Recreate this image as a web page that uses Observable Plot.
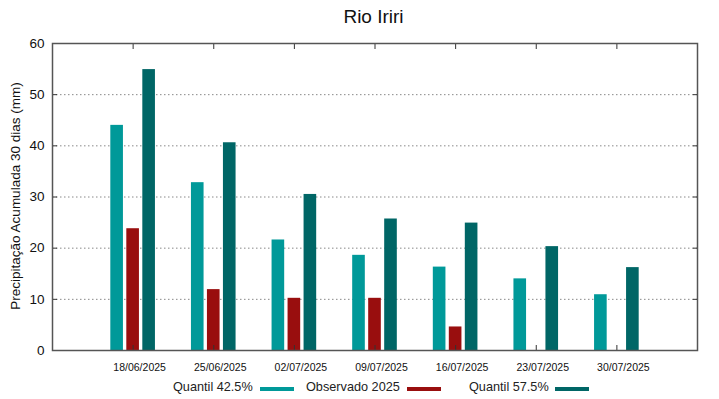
<!DOCTYPE html>
<html>
<head>
<meta charset="utf-8">
<script src="https://cdn.jsdelivr.net/npm/d3@7"></script>
<script src="https://cdn.jsdelivr.net/npm/@observablehq/plot@0.6"></script>
<style>
  body { margin: 0; background: #fff; font-family: "Liberation Sans", Arial, sans-serif; }
  #wrap { width: 719px; height: 399px; position: relative; overflow: hidden; }
  #title { height: 30px; line-height: 34px; text-align: center; font-size: 19px; color: #111; padding-left: 28px; }
  #ylabel { position: absolute; left: 15px; top: 196px; transform: translate(-50%, -50%) rotate(-90deg); white-space: nowrap; font-size: 13.5px; color: #111; }
  #legend { position: absolute; top: 379px; left: 0; width: 719px; height: 18px; font-size: 12.7px; color: #222; }
  .item { position: absolute; top: 0; line-height: 16px; }
  .sw { position: absolute; top: 8px; height: 4px; width: 34px; }
</style>
</head>
<body>
<div id="wrap">
  <div id="title">Rio Iriri</div>
  <div id="chart"></div>
  <div id="ylabel">Precipitação Acumulada 30 dias (mm)</div>
  <div id="legend"></div>
</div>
<script>
const dates = ["18/06/2025", "25/06/2025", "02/07/2025", "09/07/2025", "16/07/2025", "23/07/2025", "30/07/2025"];
const quantil425 = [44.0, 32.8, 21.6, 18.6, 16.3, 14.0, 10.9];
const observado2025 = [23.8, 11.9, 10.2, 10.2, 4.6, null, null];
const quantil575 = [54.9, 40.6, 30.5, 25.7, 24.9, 20.3, 16.2];
const yTicks = [0, 10, 20, 30, 40, 50, 60];
const seriesNames = ["Quantil 42.5%", "Observado 2025", "Quantil 57.5%"];
const seriesColors = ["#009999", "#990e0e", "#006666"];

const rows = (vals) => dates.map((d, i) => ({date: d, value: vals[i]})).filter(r => r.value != null);

const barInset = 34;
const chart = Plot.plot({
  width: 719,
  height: 348,
  marginTop: 13,
  marginLeft: 52,
  marginRight: 22,
  marginBottom: 28,
  style: {fontFamily: "Liberation Sans, Arial, sans-serif", background: "#fff"},
  x: {type: "band", domain: dates, paddingInner: 0, paddingOuter: 0.5, round: false},
  y: {domain: [0, 60]},
  marks: [
    Plot.gridY(yTicks.slice(1, -1), {stroke: "#888", strokeOpacity: 1, strokeDasharray: "1.5,2.5", strokeWidth: 1}),
    Plot.barY(rows(quantil425), {x: "date", y: "value", fill: seriesColors[0], dx: -16, insetLeft: barInset, insetRight: barInset}),
    Plot.barY(rows(observado2025), {x: "date", y: "value", fill: seriesColors[1], dx: 0, insetLeft: barInset, insetRight: barInset}),
    Plot.barY(rows(quantil575), {x: "date", y: "value", fill: seriesColors[2], dx: 16, insetLeft: barInset, insetRight: barInset}),
    Plot.axisY(yTicks, {anchor: "left", tickSize: 0, tickPadding: 8, fontSize: 13.5, fill: "#111", label: null}),
    Plot.axisY(yTicks, {anchor: "right", tickSize: -5, tickFormat: () => "", label: null, stroke: "#333"}),
    Plot.axisY(yTicks, {anchor: "left", tickSize: -5, tickFormat: () => "", label: null, stroke: "#333"}),
    Plot.axisX({anchor: "bottom", tickSize: 0, tickPadding: 13, dx: 6.5, fontSize: 10.5, fill: "#111", label: null}),
    Plot.axisX({anchor: "bottom", tickSize: -5, tickFormat: () => "", label: null, stroke: "#333"}),
    Plot.axisX({anchor: "top", tickSize: -5, tickFormat: () => "", label: null, stroke: "#333"}),
    Plot.frame({stroke: "#555", strokeWidth: 1.5})
  ]
});
document.getElementById("chart").appendChild(chart);

const legend = document.getElementById("legend");
const textLeft = [173, 306, 469];
const swatchLeft = [260, 407, 555];
seriesNames.forEach((name, i) => {
  const t = document.createElement("div");
  t.className = "item";
  t.style.left = textLeft[i] + "px";
  t.textContent = name;
  legend.appendChild(t);
  const s = document.createElement("div");
  s.className = "sw";
  s.style.left = swatchLeft[i] + "px";
  s.style.background = seriesColors[i];
  legend.appendChild(s);
});
</script>
</body>
</html>
